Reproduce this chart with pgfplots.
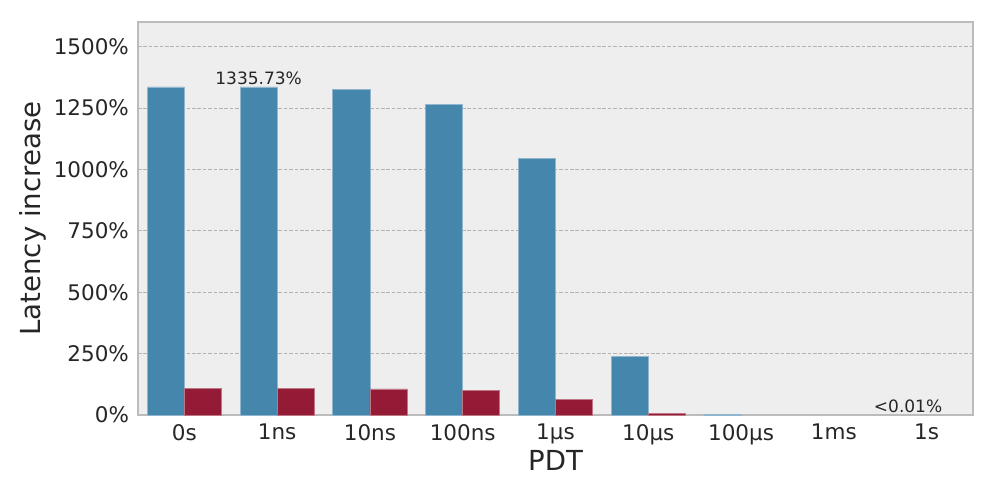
\documentclass[border=0pt]{standalone}
\usepackage{pgfplots}
\pgfplotsset{compat=1.18}
\usepackage{fontspec}
\setmainfont{DejaVu Sans}

\definecolor{barblue}{RGB}{69,134,173}
\definecolor{barred}{RGB}{148,27,54}
\definecolor{bgray}{RGB}{238,238,238}
\definecolor{framegray}{RGB}{188,188,188}
\definecolor{gridgray}{RGB}{178,178,178}
\definecolor{txt}{RGB}{38,38,38}

\begin{document}
\begin{tikzpicture}
\begin{axis}[
    name=ax,
    scale only axis,
    width=417.5pt, height=196.5pt,
    xmin=-0.5, xmax=8.5,
    ymin=0, ymax=1600,
    xtick={0,...,8},
    xticklabels={0s,1ns,10ns,100ns,1µs,10µs,100µs,1ms,1s},
    ytick={0,250,...,1500},
    yticklabel={\pgfmathprintnumber{\tick}\%},
    /pgf/number format/assume math mode=true,
    /pgf/number format/1000 sep={},
    major tick length=0pt,
    tick label style={font=\fontsize{10.75pt}{12pt}\selectfont, text=txt},
    xticklabel style={yshift=-1pt},
    yticklabel style={xshift=-1pt},
    xlabel={PDT}, ylabel={Latency increase},
    label style={font=\fontsize{13.8pt}{16pt}\selectfont, text=txt},
    xlabel style={yshift=4pt},
    ylabel style={yshift=-3pt},
    axis background/.style={fill=bgray},
    axis line style={framegray, line width=1pt},
    ymajorgrids,
    grid style={gridgray, line width=0.35pt, dash pattern=on 1.8pt off 0.9pt},
    clip=false,
]
\addplot[ybar, bar width=0.4, bar shift=-0.2, fill=barblue, draw=barblue!60!white, line width=0.4pt]
    coordinates {(0,1335.73) (1,1335.73) (2,1324) (3,1264) (4,1046) (5,239) (6,4)};
\addplot[ybar, bar width=0.4, bar shift=0.2, fill=barred, draw=barred!60!white, line width=0.4pt]
    coordinates {(0,107) (1,107) (2,106) (3,101) (4,64) (5,7)};
\node[font=\fontsize{8.5pt}{10pt}\selectfont, text=txt, anchor=south, inner sep=1pt] at (axis cs:0.8,1335.73) {1335.73\%};
\node[font=\fontsize{8.5pt}{10pt}\selectfont, text=txt, anchor=south, inner sep=1pt] at (axis cs:7.8,0.01) {<0.01\%};
\end{axis}
\path[use as bounding box] ([xshift=-69pt,yshift=-41.5pt]ax.south west) rectangle ([xshift=11.5pt,yshift=11pt]ax.north east);
\end{tikzpicture}
\end{document}
